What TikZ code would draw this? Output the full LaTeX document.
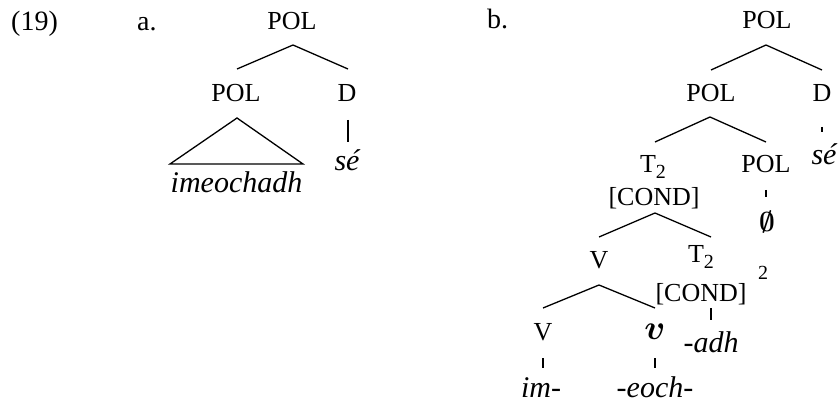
\documentclass[tikz,border=0pt]{standalone}
\usepackage{graphicx}
\usepackage{fontspec}
\setmainfont{Liberation Serif}
\usetikzlibrary{calc}
\begin{document}
\begin{tikzpicture}[x=1pt,y=-1pt,
  cat/.style={font=\fontsize{26}{26}\selectfont, inner sep=0pt, anchor=base},
  wd/.style={font=\fontsize{30}{30}\selectfont\itshape, inner sep=0pt, anchor=base},
  lbl/.style={font=\fontsize{28}{28}\selectfont, inner sep=0pt, anchor=base west},
  sup/.style={font=\fontsize{20}{20}\selectfont, inner sep=0pt, anchor=base},
  branch/.style={line width=1.3pt},
  tick/.style={line width=1.1pt}]
\useasboundingbox (0,0) rectangle (838,406);
\newcommand{\Tsub}{T\raisebox{-6pt}{\fontsize{20}{20}\selectfont 2}}
% labels
\node[lbl] (ex) at (11,31) {(19)};
\node[lbl] (la) at (137,31) {a.};
\node[lbl] (lb) at (487,29) {b.};
% tree a
\node[cat] (atop) at (292,30) {POL};
\node[cat] (apol) at (236,102) {POL};
\node[cat] (ad) at (347,102) {D};
\node[wd] (imeo) at (236.5,193) {imeochadh};
\node[wd] (ase) at (347,171) {sé};
\draw[branch] ($(apol.base)+(1,-33)$) -- ($(atop.base)+(1,15)$) -- ($(ad.base)+(1,-33)$);
\draw[branch] ($(apol.base)+(1,16)$) -- ($(imeo.base)+(-66.5,-29)$) -- ($(imeo.base)+(66.5,-29)$) -- cycle;
\draw[branch] ($(ad.base)+(1,18)$) -- ($(ase.base)+(1,-29)$);
% tree b
\node[cat] (btop) at (767,29) {POL};
\node[cat] (bpol) at (711,102) {POL};
\node[cat] (bd) at (822,102) {D};
\node[wd] (bse) at (824,165) {sé};
\node[cat] (bt2) at (653,173) {\Tsub};
\node[cat] (bcond) at (654,206) {[COND]};
\node[cat] (bpolb) at (766,173) {POL};
\node[cat, font=\fontsize{29}{29}\selectfont\boldmath] (bnull) at (767,232) {\scalebox{1.1}{$\emptyset$}};
\node[cat] (bv) at (599,268) {V};
\node[cat] (bt2b) at (701,262) {\Tsub};
\node[cat] (bcondb) at (701,301) {[COND]};
\node[sup] (bsup) at (763,279) {2};
\node[wd] (badh) at (711,352) {-adh};
\node[cat] (bvl) at (543,340) {V};
\node[wd, font=\fontsize{30}{30}\selectfont\boldmath] (bsv) at (655,339) {\scalebox{1.4}{$v$}};
\node[wd] (bim) at (541,397) {im-};
\node[wd] (beoch) at (655,397) {-eoch-};
\draw[branch] ($(bpol.base)+(0,-32)$) -- ($(btop.base)+(-1,16)$) -- ($(bd.base)+(0,-32)$);
\draw[tick] ($(bd.base)+(0,25)$) -- ($(bse.base)+(-2,-33)$);
\draw[branch] ($(bt2.base)+(2,-31)$) -- ($(bpol.base)+(-1,15)$) -- ($(bpolb.base)+(0,-31)$);
\draw[tick] ($(bpolb.base)+(0,17)$) -- ($(bnull.base)+(-1,-35)$);
\draw[branch] ($(bv.base)+(0,-31)$) -- ($(bcond.base)+(1,7)$) -- ($(bt2b.base)+(10,-25)$);
\draw[tick] ($(bcondb.base)+(10,7)$) -- ($(badh.base)+(0,-32)$);
\draw[branch] ($(bvl.base)+(0,-32)$) -- ($(bv.base)+(0,17)$) -- ($(bsv.base)+(0,-31)$);
\draw[tick] ($(bvl.base)+(0,18)$) -- ($(bim.base)+(2,-29)$);
\draw[tick] ($(bsv.base)+(0,19)$) -- ($(beoch.base)+(0,-29)$);
\end{tikzpicture}
\end{document}
